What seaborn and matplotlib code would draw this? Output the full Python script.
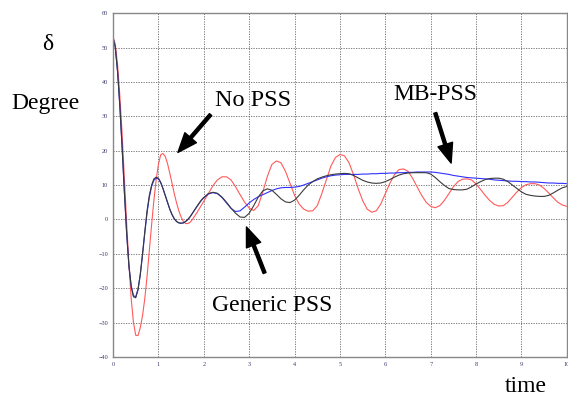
import numpy as np
import pandas as pd
import matplotlib
matplotlib.use('Agg')
import matplotlib.pyplot as plt
import seaborn as sns

# time axis (s): 0.05 step up to 2 s, then 0.1 step
time = [round(i * 0.05, 2) for i in range(41)] + [round(2 + i * 0.1, 1) for i in range(1, 81)]

# rotor angle (degree)
no_pss = [53, 51, 45, 36, 25, 12, -1, -13, -23, -30,
          -33.7, -33.8, -31.5, -28, -23, -16.5, -9, -1.5, 5.5, 11.5,
          16, 18.8, 19.2, 18.3, 16.3, 13.5, 10.5, 7.5, 4.8, 2.5,
          0.7, -0.6, -1.2, -1.2, -0.8, 0, 1, 2, 3.1, 4.2,
          5.3,
          7.5, 9.8, 11.5, 12.4, 12.4, 11.5, 9.5, 7.2, 5,
          3.3, 2.6, 4, 8, 12.5, 16, 17, 16.5, 14, 10.5,
          7, 4.5, 3, 2.4, 2.5, 4, 7.5, 11.5, 15.5, 18,
          18.9, 18.5, 16.5, 13, 9, 5.5, 3, 2.1, 2.5, 4.5,
          7.5, 10.5, 13, 14.5, 14.7, 14, 12, 9.5, 7, 5,
          3.8, 3.4, 4, 5.5, 7.5, 9.5, 11, 11.7, 11.8, 11.5,
          10.3, 8.7, 7, 5.5, 4.4, 3.9, 4, 5, 6.5, 8,
          9.3, 10.1, 10.4, 10.4, 10, 9, 7.7, 6.3, 5, 4.2,
          3.8]

generic_pss = [53, 50, 43, 33, 21, 8, -4, -13.5, -19.5, -22.5,
               -22.8, -20.5, -16, -10, -3.5, 2.5, 7, 10, 11.8, 12.3,
               12, 10.8, 9, 7, 5, 3, 1.4, 0.2, -0.6, -1,
               -1.1, -1, -0.6, 0, 0.8, 1.8, 2.8, 3.8, 4.8, 5.7,
               6.4,
               7.5, 7.9, 7.6, 6.5, 5, 3.3, 1.8, 0.7, 0.6,
               1.8, 4, 6.5, 8.3, 8.9, 8.5, 7.3, 6, 5.1, 4.9,
               5.6, 7, 8.6, 10, 11, 11.8, 12.3, 12.7, 13, 13.2,
               13.3, 13.4, 13.3, 12.8, 12.1, 11.4, 10.9, 10.6, 10.5, 10.6,
               11, 11.6, 12.3, 12.9, 13.3, 13.5, 13.6, 13.6, 13.6, 13.6,
               13.2, 12.2, 11, 9.9, 9, 8.7, 8.6, 8.6, 8.8, 9.5,
               10.3, 11, 11.6, 11.9, 12, 12, 11.7, 11, 10, 9,
               8, 7.3, 7, 6.8, 6.7, 6.7, 7, 7.7, 8.5, 9.2,
               9.6]

mb_pss = [53, 50, 43, 33, 21, 8, -4, -13.5, -19.3, -22.2,
          -22.5, -20.3, -16.2, -10.3, -4, 2, 6.5, 9.6, 11.4, 12,
          11.8, 10.7, 9, 7, 5, 3, 1.4, 0.2, -0.6, -1,
          -1.1, -1, -0.6, 0, 0.8, 1.8, 2.8, 3.8, 4.7, 5.6,
          6.3,
          7.4, 7.8, 7.5, 6.4, 4.8, 3.2, 2.3, 2.5, 3.6,
          4.8, 5.8, 6.6, 7.2, 7.8, 8.4, 8.9, 9.2, 9.3, 9.3,
          9.4, 9.6, 10, 10.5, 11, 11.5, 12, 12.4, 12.7, 12.9,
          13, 13.1, 13.1, 13.1, 13.1, 13.2, 13.2, 13.3, 13.3, 13.4,
          13.4, 13.5, 13.5, 13.6, 13.6, 13.7, 13.7, 13.8, 13.8, 13.8,
          13.8, 13.7, 13.5, 13.3, 13.1, 12.8, 12.6, 12.4, 12.2, 12.1,
          12, 11.9, 11.8, 11.7, 11.5, 11.4, 11.3, 11.2, 11.1, 11.1,
          11, 11, 10.9, 10.9, 10.8, 10.7, 10.6, 10.6, 10.5, 10.5,
          10.4]

n = len(time)
df = pd.DataFrame({
    'time': time * 3,
    'delta': no_pss + generic_pss + mb_pss,
    'case': ['No PSS'] * n + ['Generic PSS'] * n + ['MB-PSS'] * n,
})

sns.set_style('white')
plt.rcParams['font.family'] = ['Liberation Serif', 'DejaVu Serif']
plt.rcParams['text.color'] = 'black'

fig = plt.figure(figsize=(5.68, 4.01), dpi=100)
ax = fig.add_axes([0.199, 0.110, 0.799, 0.857])

sns.lineplot(data=df, x='time', y='delta', hue='case',
             palette={'No PSS': '#ff5a5a', 'Generic PSS': '#3a3a3a', 'MB-PSS': '#3030ff'},
             hue_order=['No PSS', 'MB-PSS', 'Generic PSS'],
             linewidth=0.8, legend=False, ax=ax)

ax.set_xlim(0, 10)
ax.set_ylim(-40, 60)
ax.set_xticks(range(0, 11))
ax.set_yticks(range(-40, 61, 10))
ax.tick_params(labelsize=4.5, colors='#3a3a6a', length=3, width=0.6, direction='in')
ax.grid(True, color='#666666', linestyle=(0, (1.5, 1.5)), linewidth=0.6)
for s in ax.spines.values():
    s.set_color('#888888')
    s.set_linewidth(1.0)
ax.set_xlabel('')
ax.set_ylabel('')

# labels outside the axes
fig.text(48 / 568, 1 - 45 / 401, 'δ', fontsize=17, ha='center', va='center', color='black')
fig.text(45 / 568, 1 - 103 / 401, 'Degree', fontsize=17, ha='center', va='center', color='black')
fig.text(526 / 568, 1 - 387 / 401, 'time', fontsize=17, ha='center', va='center', color='black')

arrow = dict(facecolor='black', edgecolor='black', width=2.2, headwidth=11, headlength=14, shrink=0)
ax.annotate('', xy=(1.43, 19.5), xytext=(2.15, 30.5), arrowprops=arrow)
ax.annotate('', xy=(7.45, 16.4), xytext=(7.1, 31), arrowprops=arrow)
ax.annotate('', xy=(2.94, -2.2), xytext=(3.34, -15.6), arrowprops=arrow)
ax.text(2.25, 34.5, 'No PSS', fontsize=17.5, ha='left', va='center', color='black')
ax.text(6.18, 36.3, 'MB-PSS', fontsize=17, ha='left', va='center', color='black')
ax.text(2.18, -25, 'Generic PSS', fontsize=17, ha='left', va='center', color='black')

fig.savefig('out.png', dpi=100)
